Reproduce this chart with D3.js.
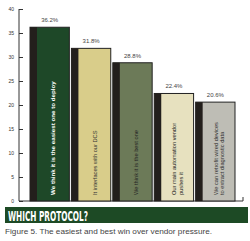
<!DOCTYPE html>
<html>
<head>
<meta charset="utf-8">
<script src="https://cdn.jsdelivr.net/npm/d3@7"></script>
<style>
  body { margin: 0; background: #fff; }
  svg { display: block; }
  .axis text { font-family: "Liberation Sans", sans-serif; font-size: 5px; fill: #333; }
  .axis path, .axis line { stroke: #333; }
</style>
</head>
<body>
<svg id="chart" width="250" height="241"></svg>
<script>
// Survey answers and shares (%)
const answers = [
    ["We think it is the easiest one to deploy"],
    ["It interfaces with our DCS"],
    ["We think it is the best one"],
    ["Our main automation vendor", "pushes it"],
    ["We can retrofit wired devices", "to extract diagnostic data"]
];
const shares = [36.2, 31.8, 28.8, 22.4, 20.6];
const barColors = ["#1e4828", "#d9cd8a", "#6c7a58", "#e7e1bf", "#bebdb5"];
const textColors = ["#fff", "#333", "#222", "#222", "#333"];
const yTicks = [0, 5, 10, 15, 20, 25, 30, 35, 40];

const svg = d3.select("#chart");

const x = d3.scaleBand()
    .domain(d3.range(shares.length))
    .range([30, 235])
    .paddingInner(0.05);

const y = d3.scaleLinear()
    .domain([0, 40])
    .range([201, 9]);

// Left axis, ticks pointing inward
svg.append("g")
    .attr("class", "axis")
    .attr("transform", "translate(19,0)")
    .call(d3.axisLeft(y).tickValues(yTicks).tickSize(-4).tickPadding(5))
    .call(g => g.select(".domain").attr("d", `M0,${y(40)}V${y(0)}`));

// Bottom line with small end tick
svg.append("path")
    .attr("d", `M19,${y(0)}H243V${y(0) - 4}`)
    .attr("fill", "none")
    .attr("stroke", "#333");

const bars = svg.selectAll(".bar")
    .data(shares)
    .enter().append("g")
    .attr("class", "bar")
    .attr("transform", (d, i) => `translate(${x(i)},0)`);

const stripW = 7;

bars.append("rect")
    .attr("y", d => y(d))
    .attr("width", x.bandwidth())
    .attr("height", d => y(0) - y(d))
    .attr("fill", (d, i) => barColors[i])
    .attr("stroke", "#222")
    .attr("stroke-width", 1);

bars.append("rect")
    .attr("y", d => y(d))
    .attr("width", stripW)
    .attr("height", d => y(0) - y(d))
    .attr("fill", "#231f1c");

// Value labels
bars.append("text")
    .attr("x", x.bandwidth() / 2)
    .attr("y", d => y(d) - 5)
    .attr("text-anchor", "middle")
    .attr("font-family", "Liberation Sans, sans-serif")
    .attr("font-size", 6)
    .attr("fill", "#444")
    .text(d => d.toFixed(1) + "%");

// Rotated answer labels inside bars
bars.each(function(d, i) {
    const lines = answers[i];
    const cx = stripW + (x.bandwidth() - stripW) / 2;
    const lh = 6.5;
    const t = d3.select(this).append("text")
        .attr("transform", `translate(${cx - (lines.length - 1) * lh / 2 + 2},${y(0) - 6}) rotate(-90)`)
        .attr("font-family", i === 0 ? "Liberation Sans Narrow, sans-serif" : "Liberation Sans, sans-serif")
        .attr("font-size", i === 0 ? 6.2 : 5.7)
        .attr("font-weight", i === 0 ? "bold" : "normal")
        .attr("fill", textColors[i]);
    lines.forEach((ln, k) => {
        t.append("tspan").attr("x", 0).attr("y", k * lh).text(ln);
    });
});

// Title banner
svg.append("rect")
    .attr("x", 5).attr("y", 207)
    .attr("width", 243).attr("height", 16)
    .attr("fill", "#1d4a25");

svg.append("text")
    .attr("x", 8).attr("y", 220.5)
    .attr("font-family", "DejaVu Sans Condensed, sans-serif")
    .attr("font-weight", "bold")
    .attr("font-size", 14)
    .attr("fill", "#fff")
    .attr("textLength", 80)
    .attr("lengthAdjust", "spacingAndGlyphs")
    .text("WHICH PROTOCOL?");

svg.append("text")
    .attr("x", 5).attr("y", 234)
    .attr("font-family", "Liberation Sans, sans-serif")
    .attr("font-size", 8)
    .attr("fill", "#444")
    .attr("textLength", 207)
    .attr("lengthAdjust", "spacingAndGlyphs")
    .text("Figure 5. The easiest and best win over vendor pressure.");
</script>
</body>
</html>
